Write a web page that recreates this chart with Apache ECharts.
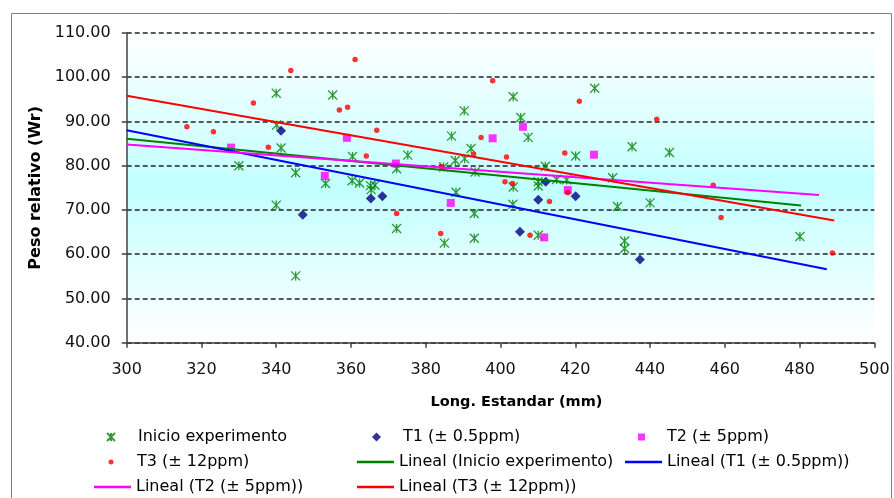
<!DOCTYPE html>
<html>
<head>
<meta charset="utf-8">
<script src="https://cdn.jsdelivr.net/npm/echarts@6/dist/echarts.min.js"></script>
<style>
  html, body { margin: 0; padding: 0; background: #fff; }
  #chart { width: 894px; height: 498px; }
</style>
</head>
<body>
<div id="chart"></div>
<script>
// Standard length (mm) vs relative weight (Wr) per group
const inicio = [
  [330.0, 80.0], [340.0, 96.4], [340.1, 89.2], [341.3, 84.0], [340.0, 71.1],
  [345.2, 78.4], [345.2, 55.1], [355.1, 96.0], [353.2, 76.0], [360.4, 82.1],
  [360.3, 76.6], [362.3, 76.1], [365.2, 75.5], [366.4, 75.6], [365.4, 74.6],
  [372.2, 79.3], [372.2, 65.8], [375.2, 82.4], [384.8, 79.7], [386.9, 86.7],
  [385.0, 62.5], [387.9, 81.2], [388.1, 74.0], [390.3, 92.4], [390.4, 81.6],
  [392.1, 83.9], [393.2, 78.6], [393.0, 69.2], [393.0, 63.6], [403.4, 95.6],
  [405.4, 90.9], [407.4, 86.4], [403.4, 75.2], [403.3, 71.3], [410.1, 76.4],
  [410.1, 75.4], [410.1, 64.3], [412.0, 79.9], [415.0, 76.9], [417.7, 76.8],
  [420.1, 82.2], [425.2, 97.5], [430.0, 77.3], [431.3, 70.8], [433.2, 63.0],
  [433.2, 61.3], [435.2, 84.3], [440.0, 71.6], [445.2, 83.0], [480.1, 64.0]
];
const t1 = [
  [341.3, 87.9], [347.1, 68.9], [365.3, 72.6], [368.4, 73.1], [405.2, 65.1],
  [410.1, 72.3], [412.1, 76.4], [420.1, 73.1], [437.3, 58.8]
];
const t2 = [
  [327.9, 84.1], [353.0, 77.7], [358.9, 86.3], [372.0, 80.5], [386.7, 71.6],
  [397.9, 86.2], [406.0, 88.8], [411.7, 63.8], [418.0, 74.5], [425.0, 82.5]
];
const t3 = [
  [316.1, 88.8], [323.2, 87.7], [333.9, 94.2], [337.9, 84.2], [343.9, 101.5],
  [356.9, 92.6], [359.1, 93.2], [361.1, 104.0], [364.1, 82.2], [366.9, 88.0],
  [372.2, 69.2], [384.0, 64.7], [384.1, 79.8], [392.8, 82.6], [394.8, 86.4],
  [397.9, 99.2], [401.2, 76.4], [401.6, 82.0], [403.2, 76.0], [407.9, 64.3],
  [413.1, 71.9], [417.2, 82.9], [418.0, 73.9], [421.1, 94.6], [441.8, 90.5],
  [456.9, 75.6], [459.0, 68.3], [488.8, 60.3]
];

// Linear trend lines (start and end points)
const trendInicio = [[300, 86.1], [480.4, 71.0]];
const trendT1 = [[300, 88.0], [487.3, 56.6]];
const trendT2 = [[300, 84.8], [485.2, 73.4]];
const trendT3 = [[300, 95.8], [489.3, 67.6]];

const names = [
  'Inicio experimento', 'T1 (± 0.5ppm)', 'T2 (± 5ppm)', 'T3 (± 12ppm)',
  'Lineal (Inicio experimento)', 'Lineal (T1 (± 0.5ppm))',
  'Lineal (T2 (± 5ppm))', 'Lineal (T3 (± 12ppm))'
];

const FONT = 'DejaVu Sans';
const asterisk = 'path://M0,0L10,10M10,0L0,10M5,0L5,10';

function legendText(padLeft) {
  return { fontFamily: FONT, fontSize: 16, color: '#000', lineHeight: 20, padding: [0, 0, 0, padLeft] };
}

// one legend block per entry, laid out in three columns
function markerLegend(name, left, rowY, size, padLeft) {
  return {
    left: left, top: rowY - 10, padding: 0,
    data: [name], selectedMode: false,
    itemWidth: size, itemHeight: size,
    textStyle: legendText(padLeft)
  };
}
function lineLegend(name, left, rowY) {
  return {
    left: left, top: rowY - 10, padding: 0,
    data: [{ name: name, icon: 'rect' }], selectedMode: false,
    itemWidth: 37, itemHeight: 2.5,
    textStyle: legendText(0)
  };
}

const chart = echarts.init(document.getElementById('chart'), null, { renderer: 'canvas' });

chart.setOption({
  animation: false,
  backgroundColor: '#fff',
  graphic: [{
    type: 'rect',
    left: 9, top: 11,
    shape: { width: 880, height: 500 },
    style: { fill: 'none', stroke: '#808080', lineWidth: 1 },
    z: -10
  }],
  grid: {
    left: 126.7, right: 19.7, top: 33, bottom: 155.3,
    show: true,
    borderWidth: 0,
    backgroundColor: new echarts.graphic.LinearGradient(0, 0, 0, 1, [
      { offset: 0, color: '#ffffff' },
      { offset: 0.5, color: '#c2ffff' },
      { offset: 1, color: '#ffffff' }
    ])
  },
  xAxis: {
    type: 'value',
    min: 300, max: 500, interval: 20,
    name: 'Long. Estandar (mm)',
    nameLocation: 'middle',
    nameGap: 52,
    nameTextStyle: { fontFamily: FONT, fontSize: 14.5, fontWeight: 'bold', color: '#000', padding: [0, 0, 0, 32] },
    axisLine: { lineStyle: { color: '#404040', width: 1.5 } },
    axisTick: { show: true, length: 5, inside: false, lineStyle: { color: '#404040', width: 1.5 } },
    axisLabel: { fontFamily: FONT, fontSize: 16, color: '#111', margin: 19 },
    splitLine: { show: false }
  },
  yAxis: {
    type: 'value',
    min: 40, max: 110, interval: 10,
    name: 'Peso relativo (Wr)',
    nameLocation: 'middle',
    nameGap: 81,
    nameTextStyle: { fontFamily: FONT, fontSize: 16, fontWeight: 'bold', color: '#000' },
    axisLine: { show: true, lineStyle: { color: '#404040', width: 1.5 } },
    axisTick: { show: true, length: 5, inside: false, lineStyle: { color: '#404040', width: 1.5 } },
    axisLabel: {
      fontFamily: FONT, fontSize: 16, color: '#111', margin: 16,
      formatter: v => v.toFixed(2)
    },
    splitLine: { show: true, lineStyle: { color: '#222', width: 1.5, type: [5, 3] } }
  },
  legend: [
    markerLegend(names[0], 106, 437, 8, 18),
    markerLegend(names[1], 372, 437, 9, 17),
    markerLegend(names[2], 638, 437, 7, 17),
    markerLegend(names[3], 108.5, 462, 5, 18.5),
    lineLegend(names[4], 357, 462),
    lineLegend(names[5], 625, 462),
    lineLegend(names[6], 94, 487),
    lineLegend(names[7], 357, 487)
  ],
  series: [
    {
      name: names[0], type: 'scatter', data: inicio,
      symbol: asterisk, symbolSize: 9,
      itemStyle: { color: 'rgba(0,0,0,0)', borderColor: '#008000', borderWidth: 1.3 },
      z: 2
    },
    {
      name: names[1], type: 'scatter', data: t1,
      symbol: 'diamond', symbolSize: 10,
      itemStyle: { color: '#000080' }, z: 3
    },
    {
      name: names[2], type: 'scatter', data: t2,
      symbol: 'rect', symbolSize: 8,
      itemStyle: { color: '#ff00ff' }, z: 3
    },
    {
      name: names[3], type: 'scatter', data: t3,
      symbol: 'circle', symbolSize: 5.5,
      itemStyle: { color: '#ff0000' }, z: 3
    },
    {
      name: names[4], type: 'line', data: trendInicio, symbol: 'none',
      lineStyle: { color: '#008000', width: 2 }, itemStyle: { color: '#008000' }, z: 4
    },
    {
      name: names[5], type: 'line', data: trendT1, symbol: 'none',
      lineStyle: { color: '#0000ff', width: 2 }, itemStyle: { color: '#0000ff' }, z: 4
    },
    {
      name: names[6], type: 'line', data: trendT2, symbol: 'none',
      lineStyle: { color: '#ff00ff', width: 2 }, itemStyle: { color: '#ff00ff' }, z: 4
    },
    {
      name: names[7], type: 'line', data: trendT3, symbol: 'none',
      lineStyle: { color: '#ff0000', width: 2 }, itemStyle: { color: '#ff0000' }, z: 4
    }
  ]
});
</script>
</body>
</html>
